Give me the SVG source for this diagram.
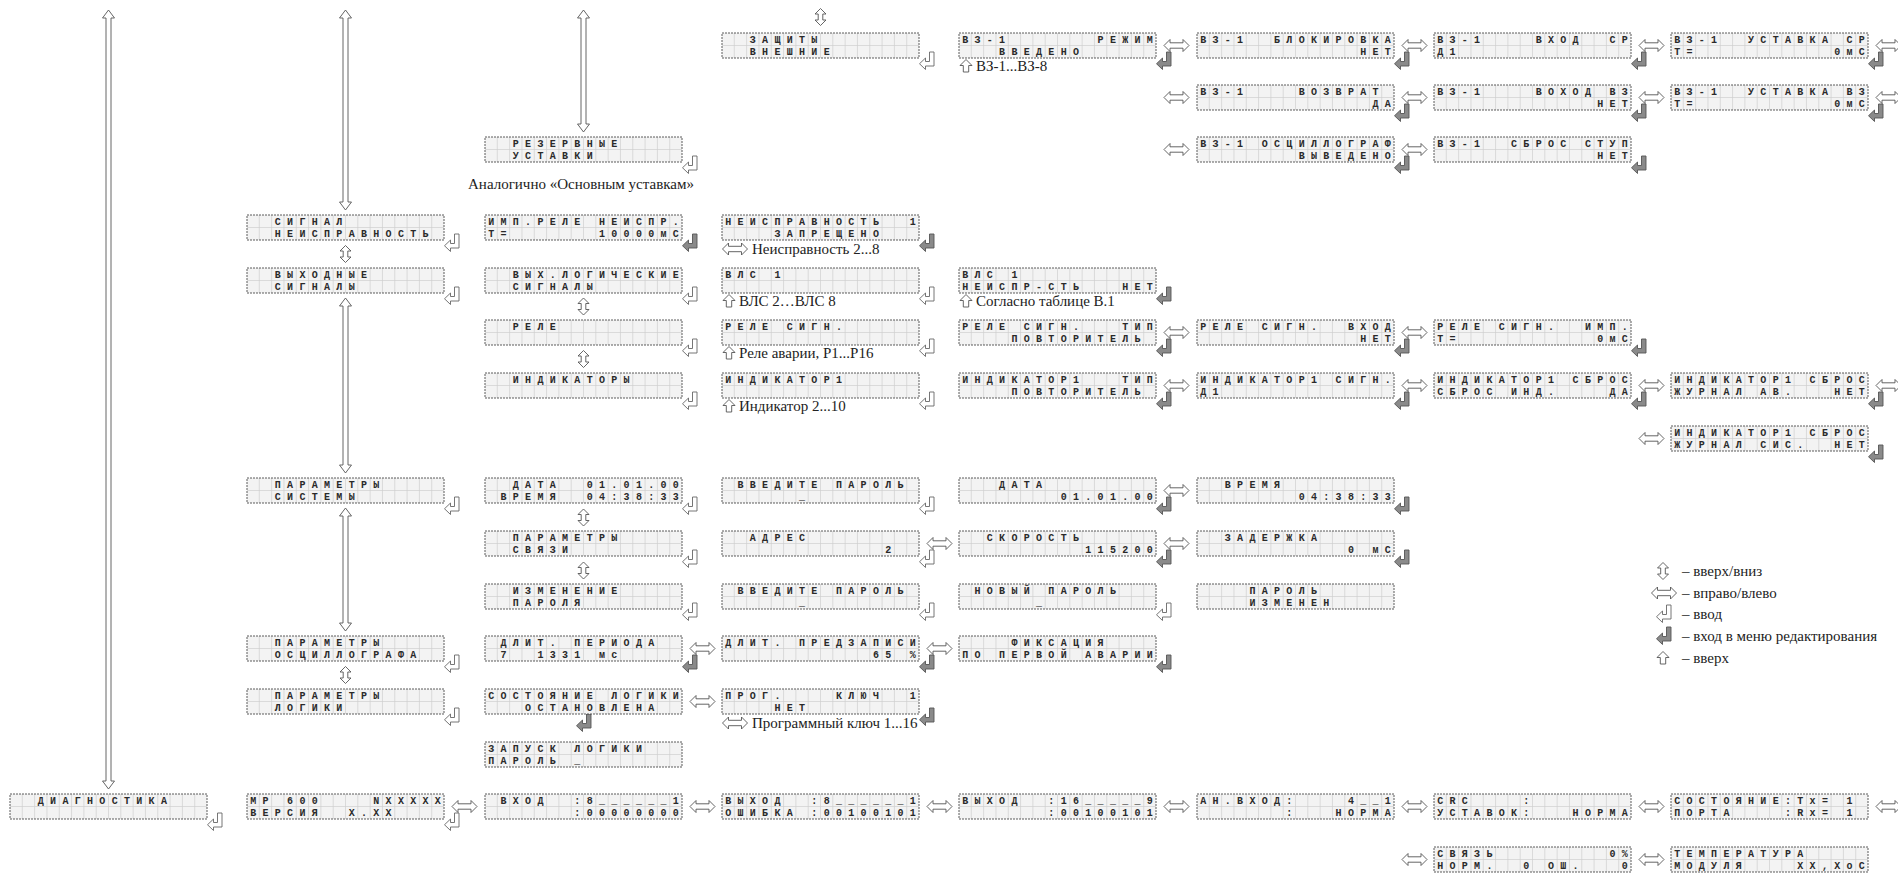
<svg xmlns="http://www.w3.org/2000/svg" width="1898" height="875" viewBox="0 0 1898 875">
<style>
.t{font-family:"Liberation Mono","DejaVu Sans Mono",monospace;font-size:10px;font-weight:bold;letter-spacing:6.31px;white-space:pre;fill:#2a2a2a}
.lb{font-family:"Liberation Serif","DejaVu Serif",serif;font-size:15px;fill:#222}
.ar{fill:#fff;stroke:#555;stroke-width:0.9}
.eL{fill:#fff;stroke:#666;stroke-width:0.9}
.eD{fill:#8a8a8a;stroke:#555;stroke-width:0.9}
</style>
<defs>
<g id="lcd">
<rect width="197" height="25" fill="#f3f3f3"/>
<path d="M12.31 0V25M24.63 0V25M36.94 0V25M49.25 0V25M61.56 0V25M73.88 0V25M86.19 0V25M98.5 0V25M110.81 0V25M123.13 0V25M135.44 0V25M147.75 0V25M160.06 0V25M172.38 0V25M184.69 0V25M0 12.5H197" stroke="#cfcfcf" stroke-width="0.7" fill="none"/>
<rect width="197" height="25" fill="none" stroke="#4a4a4a" stroke-width="0.9" stroke-dasharray="2 1"/>
</g>
<polygon id="ent" points="10.5,0 15,0 15,14 6.5,14 6.5,17.5 0.5,11.75 6.5,6 6.5,9.5 10.5,9.5"/>
<polygon id="hx" points="-12.5,0 -6.5,-6 -6.5,-2.7 6.5,-2.7 6.5,-6 12.5,0 6.5,6 6.5,2.7 -6.5,2.7 -6.5,6"/>
<polygon id="vx" points="0,-8.5 5.5,-3 2.3,-3 2.3,3 5.5,3 0,8.5 -5.5,3 -2.3,3 -2.3,-3 -5.5,-3"/>
<polygon id="up" points="0,-6.5 6,-0.5 2.7,-0.5 2.7,6 -2.7,6 -2.7,-0.5 -6,-0.5"/>
</defs>
<rect width="1898" height="875" fill="#fff"/>

<g id="connectors">
<polygon class="ar" points="108.5,10 114.5,18 111,18 111,781 114.5,781 108.5,789 102.5,781 106,781 106,18 102.5,18"/>
<polygon class="ar" points="345.5,10 351.5,18 348,18 348,202 351.5,202 345.5,210 339.5,202 343,202 343,18 339.5,18"/>
<polygon class="ar" points="345.5,298 351.5,306 348,306 348,465 351.5,465 345.5,473 339.5,465 343,465 343,306 339.5,306"/>
<polygon class="ar" points="345.5,508 351.5,516 348,516 348,623 351.5,623 345.5,631 339.5,623 343,623 343,516 339.5,516"/>
<polygon class="ar" points="583.5,10 589.5,18 586,18 586,124 589.5,124 583.5,132 577.5,124 581,124 581,18 577.5,18"/>
<use href="#vx" class="ar" x="820.5" y="17"/>
<use href="#vx" class="ar" x="345.5" y="254"/>
<use href="#vx" class="ar" x="345.5" y="675"/>
<use href="#vx" class="ar" x="583.5" y="306.5"/>
<use href="#vx" class="ar" x="583.5" y="359"/>
<use href="#vx" class="ar" x="583.5" y="517.5"/>
<use href="#vx" class="ar" x="583.5" y="570.5"/>
<use href="#ent" class="eD" x="576" y="714"/>
<use href="#hx" class="ar" x="1176.5" y="45.5"/>
<use href="#hx" class="ar" x="1414.5" y="45.5"/>
<use href="#hx" class="ar" x="1651.5" y="45.5"/>
<use href="#hx" class="ar" x="1888.5" y="45.5"/>
<use href="#hx" class="ar" x="1176.5" y="97.5"/>
<use href="#hx" class="ar" x="1414.5" y="97.5"/>
<use href="#hx" class="ar" x="1651.5" y="97.5"/>
<use href="#hx" class="ar" x="1888.5" y="97.5"/>
<use href="#hx" class="ar" x="1176.5" y="149.5"/>
<use href="#hx" class="ar" x="1414.5" y="149.5"/>
<use href="#hx" class="ar" x="1176.5" y="332.5"/>
<use href="#hx" class="ar" x="1414.5" y="332.5"/>
<use href="#hx" class="ar" x="1176.5" y="385.5"/>
<use href="#hx" class="ar" x="1414.5" y="385.5"/>
<use href="#hx" class="ar" x="1651.5" y="385.5"/>
<use href="#hx" class="ar" x="1888.5" y="385.5"/>
<use href="#hx" class="ar" x="1651.5" y="438.5"/>
<use href="#hx" class="ar" x="1176.5" y="490.5"/>
<use href="#hx" class="ar" x="939.5" y="543.5"/>
<use href="#hx" class="ar" x="1176.5" y="543.5"/>
<use href="#hx" class="ar" x="702.5" y="648.5"/>
<use href="#hx" class="ar" x="939.5" y="648.5"/>
<use href="#hx" class="ar" x="702.5" y="701.5"/>
<use href="#hx" class="ar" x="464.5" y="806.5"/>
<use href="#hx" class="ar" x="702.5" y="806.5"/>
<use href="#hx" class="ar" x="939.5" y="806.5"/>
<use href="#hx" class="ar" x="1176.5" y="806.5"/>
<use href="#hx" class="ar" x="1414.5" y="806.5"/>
<use href="#hx" class="ar" x="1651.5" y="806.5"/>
<use href="#hx" class="ar" x="1888.5" y="806.5"/>
<use href="#hx" class="ar" x="1414.5" y="859.5"/>
<use href="#hx" class="ar" x="1651.5" y="859.5"/>
</g>

<g id="n-zashity" transform="translate(722,33)"><use href="#lcd"/><text class="t" x="3.2" y="9.8">  ЗАЩИТЫ</text><text class="t" x="3.2" y="22.3">  ВНЕШНИЕ</text><use href="#ent" class="eL" x="197" y="19"/></g>
<g id="n-vz-rezhim" transform="translate(959,33)"><use href="#lcd"/><text class="t" x="3.2" y="9.8">ВЗ-1       РЕЖИМ</text><text class="t" x="3.2" y="22.3">   ВВЕДЕНО</text><use href="#ent" class="eD" x="197" y="19"/><use href="#up" class="ar" x="7" y="33"/><text class="lb" x="17" y="38">ВЗ-1...ВЗ-8</text></g>
<g id="n-vz-blok" transform="translate(1197,33)"><use href="#lcd"/><text class="t" x="3.2" y="9.8">ВЗ-1  БЛОКИРОВКА</text><text class="t" x="3.2" y="22.3">             НЕТ</text><use href="#ent" class="eD" x="197" y="19"/></g>
<g id="n-vz-vhod-sr" transform="translate(1434,33)"><use href="#lcd"/><text class="t" x="3.2" y="9.8">ВЗ-1    ВХОД  СР</text><text class="t" x="3.2" y="22.3">Д1</text><use href="#ent" class="eD" x="197" y="19"/></g>
<g id="n-vz-ust-sr" transform="translate(1671,33)"><use href="#lcd"/><text class="t" x="3.2" y="9.8">ВЗ-1  УСТАВКА СР</text><text class="t" x="3.2" y="22.3">Т=           0мС</text><use href="#ent" class="eD" x="197" y="19"/></g>

<g id="n-vz-vozvrat" transform="translate(1197,85)"><use href="#lcd"/><text class="t" x="3.2" y="9.8">ВЗ-1    ВОЗВРАТ</text><text class="t" x="3.2" y="22.3">              ДА</text><use href="#ent" class="eD" x="197" y="19"/></g>
<g id="n-vz-vhod-vz" transform="translate(1434,85)"><use href="#lcd"/><text class="t" x="3.2" y="9.8">ВЗ-1    ВОХОД ВЗ</text><text class="t" x="3.2" y="22.3">             НЕТ</text><use href="#ent" class="eD" x="197" y="19"/></g>
<g id="n-vz-ust-vz" transform="translate(1671,85)"><use href="#lcd"/><text class="t" x="3.2" y="9.8">ВЗ-1  УСТАВКА ВЗ</text><text class="t" x="3.2" y="22.3">Т=           0мС</text><use href="#ent" class="eD" x="197" y="19"/></g>

<g id="n-rezerv" transform="translate(485,137)"><use href="#lcd"/><text class="t" x="3.2" y="9.8">  РЕЗЕРВНЫЕ</text><text class="t" x="3.2" y="22.3">  УСТАВКИ</text><use href="#ent" class="eL" x="197" y="19"/><text class="lb" x="96" y="52" text-anchor="middle">Аналогично «Основным уставкам»</text></g>
<g id="n-vz-osc" transform="translate(1197,137)"><use href="#lcd"/><text class="t" x="3.2" y="9.8">ВЗ-1 ОСЦИЛЛОГРАФ</text><text class="t" x="3.2" y="22.3">        ВЫВЕДЕНО</text><use href="#ent" class="eD" x="197" y="19"/></g>
<g id="n-vz-sbros" transform="translate(1434,137)"><use href="#lcd"/><text class="t" x="3.2" y="9.8">ВЗ-1  СБРОС СТУП</text><text class="t" x="3.2" y="22.3">             НЕТ</text><use href="#ent" class="eD" x="197" y="19"/></g>

<g id="n-signal" transform="translate(247,215)"><use href="#lcd"/><text class="t" x="3.2" y="9.8">  СИГНАЛ</text><text class="t" x="3.2" y="22.3">  НЕИСПРАВНОСТЬ</text><use href="#ent" class="eL" x="197" y="19"/></g>
<g id="n-imp-rele" transform="translate(485,215)"><use href="#lcd"/><text class="t" x="3.2" y="9.8">ИМП.РЕЛЕ НЕИСПР.</text><text class="t" x="3.2" y="22.3">Т=       10000мС</text><use href="#ent" class="eD" x="197" y="19"/></g>
<g id="n-neispr1" transform="translate(722,215)"><use href="#lcd"/><text class="t" x="3.2" y="9.8">НЕИСПРАВНОСТЬ  1</text><text class="t" x="3.2" y="22.3">    ЗАПРЕЩЕНО</text><use href="#ent" class="eD" x="197" y="19"/><use href="#hx" class="ar" x="13" y="34"/><text class="lb" x="30" y="39">Неисправность 2...8</text></g>

<g id="n-vyhodnye" transform="translate(247,268)"><use href="#lcd"/><text class="t" x="3.2" y="9.8">  ВЫХОДНЫЕ</text><text class="t" x="3.2" y="22.3">  СИГНАЛЫ</text><use href="#ent" class="eL" x="197" y="19"/></g>
<g id="n-vyh-log" transform="translate(485,268)"><use href="#lcd"/><text class="t" x="3.2" y="9.8">  ВЫХ.ЛОГИЧЕСКИЕ</text><text class="t" x="3.2" y="22.3">  СИГНАЛЫ</text><use href="#ent" class="eL" x="197" y="19"/></g>
<g id="n-vls1" transform="translate(722,268)"><use href="#lcd"/><text class="t" x="3.2" y="9.8">ВЛС 1</text><use href="#ent" class="eL" x="197" y="19"/><use href="#up" class="ar" x="7" y="33"/><text class="lb" x="17" y="38">ВЛС 2…ВЛС 8</text></g>
<g id="n-vls1-neispr" transform="translate(959,268)"><use href="#lcd"/><text class="t" x="3.2" y="9.8">ВЛС 1</text><text class="t" x="3.2" y="22.3">НЕИСПР-СТЬ   НЕТ</text><use href="#ent" class="eD" x="197" y="19"/><use href="#up" class="ar" x="7" y="33"/><text class="lb" x="17" y="38">Согласно таблице В.1</text></g>

<g id="n-rele" transform="translate(485,320)"><use href="#lcd"/><text class="t" x="3.2" y="9.8">  РЕЛЕ</text><use href="#ent" class="eL" x="197" y="19"/></g>
<g id="n-rele-sign" transform="translate(722,320)"><use href="#lcd"/><text class="t" x="3.2" y="9.8">РЕЛЕ СИГН.</text><use href="#ent" class="eL" x="197" y="19"/><use href="#up" class="ar" x="7" y="33"/><text class="lb" x="17" y="38">Реле аварии, Р1...Р16</text></g>
<g id="n-rele-tip" transform="translate(959,320)"><use href="#lcd"/><text class="t" x="3.2" y="9.8">РЕЛЕ СИГН.   ТИП</text><text class="t" x="3.2" y="22.3">    ПОВТОРИТЕЛЬ</text><use href="#ent" class="eD" x="197" y="19"/></g>
<g id="n-rele-vhod" transform="translate(1197,320)"><use href="#lcd"/><text class="t" x="3.2" y="9.8">РЕЛЕ СИГН.  ВХОД</text><text class="t" x="3.2" y="22.3">             НЕТ</text><use href="#ent" class="eD" x="197" y="19"/></g>
<g id="n-rele-imp" transform="translate(1434,320)"><use href="#lcd"/><text class="t" x="3.2" y="9.8">РЕЛЕ СИГН.  ИМП.</text><text class="t" x="3.2" y="22.3">Т=           0мС</text><use href="#ent" class="eD" x="197" y="19"/></g>

<g id="n-indikatory" transform="translate(485,373)"><use href="#lcd"/><text class="t" x="3.2" y="9.8">  ИНДИКАТОРЫ</text><use href="#ent" class="eL" x="197" y="19"/></g>
<g id="n-ind1" transform="translate(722,373)"><use href="#lcd"/><text class="t" x="3.2" y="9.8">ИНДИКАТОР1</text><use href="#ent" class="eL" x="197" y="19"/><use href="#up" class="ar" x="7" y="33"/><text class="lb" x="17" y="38">Индикатор 2...10</text></g>
<g id="n-ind1-tip" transform="translate(959,373)"><use href="#lcd"/><text class="t" x="3.2" y="9.8">ИНДИКАТОР1   ТИП</text><text class="t" x="3.2" y="22.3">    ПОВТОРИТЕЛЬ</text><use href="#ent" class="eD" x="197" y="19"/></g>
<g id="n-ind1-sign" transform="translate(1197,373)"><use href="#lcd"/><text class="t" x="3.2" y="9.8">ИНДИКАТОР1 СИГН.</text><text class="t" x="3.2" y="22.3">Д1</text><use href="#ent" class="eD" x="197" y="19"/></g>
<g id="n-ind1-sbros-ind" transform="translate(1434,373)"><use href="#lcd"/><text class="t" x="3.2" y="9.8">ИНДИКАТОР1 СБРОС</text><text class="t" x="3.2" y="22.3">СБРОС ИНД.    ДА</text><use href="#ent" class="eD" x="197" y="19"/></g>
<g id="n-ind1-sbros-av" transform="translate(1671,373)"><use href="#lcd"/><text class="t" x="3.2" y="9.8">ИНДИКАТОР1 СБРОС</text><text class="t" x="3.2" y="22.3">ЖУРНАЛ АВ.   НЕТ</text><use href="#ent" class="eD" x="197" y="19"/></g>
<g id="n-ind1-sbros-sis" transform="translate(1671,426)"><use href="#lcd"/><text class="t" x="3.2" y="9.8">ИНДИКАТОР1 СБРОС</text><text class="t" x="3.2" y="22.3">ЖУРНАЛ СИС.  НЕТ</text><use href="#ent" class="eD" x="197" y="19"/></g>

<g id="n-param-sis" transform="translate(247,478)"><use href="#lcd"/><text class="t" x="3.2" y="9.8">  ПАРАМЕТРЫ</text><text class="t" x="3.2" y="22.3">  СИСТЕМЫ</text><use href="#ent" class="eL" x="197" y="19"/></g>
<g id="n-data-vremya" transform="translate(485,478)"><use href="#lcd"/><text class="t" x="3.2" y="9.8">  ДАТА  01.01.00</text><text class="t" x="3.2" y="22.3"> ВРЕМЯ  04:38:33</text><use href="#ent" class="eL" x="197" y="19"/></g>
<g id="n-parol1" transform="translate(722,478)"><use href="#lcd"/><text class="t" x="3.2" y="9.8"> ВВЕДИТЕ ПАРОЛЬ</text><text class="t" x="3.2" y="22.3">      _</text><use href="#ent" class="eL" x="197" y="19"/></g>
<g id="n-data" transform="translate(959,478)"><use href="#lcd"/><text class="t" x="3.2" y="9.8">   ДАТА</text><text class="t" x="3.2" y="22.3">        01.01.00</text><use href="#ent" class="eD" x="197" y="19"/></g>
<g id="n-vremya" transform="translate(1197,478)"><use href="#lcd"/><text class="t" x="3.2" y="9.8">  ВРЕМЯ</text><text class="t" x="3.2" y="22.3">        04:38:33</text><use href="#ent" class="eD" x="197" y="19"/></g>

<g id="n-param-svyazi" transform="translate(485,531)"><use href="#lcd"/><text class="t" x="3.2" y="9.8">  ПАРАМЕТРЫ</text><text class="t" x="3.2" y="22.3">  СВЯЗИ</text><use href="#ent" class="eL" x="197" y="19"/></g>
<g id="n-adres" transform="translate(722,531)"><use href="#lcd"/><text class="t" x="3.2" y="9.8">  АДРЕС</text><text class="t" x="3.2" y="22.3">             2</text><use href="#ent" class="eL" x="197" y="19"/></g>
<g id="n-skorost" transform="translate(959,531)"><use href="#lcd"/><text class="t" x="3.2" y="9.8">  СКОРОСТЬ</text><text class="t" x="3.2" y="22.3">          115200</text><use href="#ent" class="eD" x="197" y="19"/></g>
<g id="n-zaderzhka" transform="translate(1197,531)"><use href="#lcd"/><text class="t" x="3.2" y="9.8">  ЗАДЕРЖКА</text><text class="t" x="3.2" y="22.3">            0 мС</text><use href="#ent" class="eD" x="197" y="19"/></g>

<g id="n-izm-parolya" transform="translate(485,584)"><use href="#lcd"/><text class="t" x="3.2" y="9.8">  ИЗМЕНЕНИЕ</text><text class="t" x="3.2" y="22.3">  ПАРОЛЯ</text><use href="#ent" class="eL" x="197" y="19"/></g>
<g id="n-parol2" transform="translate(722,584)"><use href="#lcd"/><text class="t" x="3.2" y="9.8"> ВВЕДИТЕ ПАРОЛЬ</text><text class="t" x="3.2" y="22.3">      _</text><use href="#ent" class="eL" x="197" y="19"/></g>
<g id="n-novyi-parol" transform="translate(959,584)"><use href="#lcd"/><text class="t" x="3.2" y="9.8"> НОВЫЙ ПАРОЛЬ</text><text class="t" x="3.2" y="22.3">      _</text><use href="#ent" class="eL" x="197" y="19"/></g>
<g id="n-parol-izmenen" transform="translate(1197,584)"><use href="#lcd"/><text class="t" x="3.2" y="9.8">    ПАРОЛЬ</text><text class="t" x="3.2" y="22.3">    ИЗМЕНЕН</text></g>

<g id="n-param-osc" transform="translate(247,636)"><use href="#lcd"/><text class="t" x="3.2" y="9.8">  ПАРАМЕТРЫ</text><text class="t" x="3.2" y="22.3">  ОСЦИЛЛОГРАФА</text><use href="#ent" class="eL" x="197" y="19"/></g>
<g id="n-dlit-per" transform="translate(485,636)"><use href="#lcd"/><text class="t" x="3.2" y="9.8"> ДЛИТ. ПЕРИОДА</text><text class="t" x="3.2" y="22.3"> 7  1331 мс</text><use href="#ent" class="eD" x="197" y="19"/></g>
<g id="n-dlit-pred" transform="translate(722,636)"><use href="#lcd"/><text class="t" x="3.2" y="9.8">ДЛИТ. ПРЕДЗАПИСИ</text><text class="t" x="3.2" y="22.3">            65 %</text><use href="#ent" class="eD" x="197" y="19"/></g>
<g id="n-fiksaciya" transform="translate(959,636)"><use href="#lcd"/><text class="t" x="3.2" y="9.8">    ФИКСАЦИЯ</text><text class="t" x="3.2" y="22.3">ПО ПЕРВОЙ АВАРИИ</text><use href="#ent" class="eD" x="197" y="19"/></g>

<g id="n-param-log" transform="translate(247,689)"><use href="#lcd"/><text class="t" x="3.2" y="9.8">  ПАРАМЕТРЫ</text><text class="t" x="3.2" y="22.3">  ЛОГИКИ</text><use href="#ent" class="eL" x="197" y="19"/></g>
<g id="n-sost-log" transform="translate(485,689)"><use href="#lcd"/><text class="t" x="3.2" y="9.8">СОСТОЯНИЕ ЛОГИКИ</text><text class="t" x="3.2" y="22.3">   ОСТАНОВЛЕНА</text></g>
<g id="n-prog-kluch" transform="translate(722,689)"><use href="#lcd"/><text class="t" x="3.2" y="9.8">ПРОГ.    КЛЮЧ  1</text><text class="t" x="3.2" y="22.3">    НЕТ</text><use href="#ent" class="eD" x="197" y="19"/><use href="#hx" class="ar" x="13" y="34"/><text class="lb" x="30" y="39">Программный ключ 1...16</text></g>

<g id="n-zapusk" transform="translate(485,742)"><use href="#lcd"/><text class="t" x="3.2" y="9.8">ЗАПУСК ЛОГИКИ</text><text class="t" x="3.2" y="22.3">ПАРОЛЬ _</text></g>

<g id="n-diagn" transform="translate(10,794)"><use href="#lcd"/><text class="t" x="3.2" y="9.8">  ДИАГНОСТИКА</text><use href="#ent" class="eL" x="197" y="19"/></g>
<g id="n-mr600" transform="translate(247,794)"><use href="#lcd"/><text class="t" x="3.2" y="9.8">МР 600    NXXXXX</text><text class="t" x="3.2" y="22.3">ВЕРСИЯ  X.XX</text><use href="#ent" class="eL" x="197" y="19"/></g>
<g id="n-vhod" transform="translate(485,794)"><use href="#lcd"/><text class="t" x="3.2" y="9.8"> ВХОД  :8______1</text><text class="t" x="3.2" y="22.3">       :00000000</text></g>
<g id="n-vyhod8" transform="translate(722,794)"><use href="#lcd"/><text class="t" x="3.2" y="9.8">ВЫХОД  :8______1</text><text class="t" x="3.2" y="22.3">ОШИБКА :00100101</text></g>
<g id="n-vyhod16" transform="translate(959,794)"><use href="#lcd"/><text class="t" x="3.2" y="9.8">ВЫХОД  :16_____9</text><text class="t" x="3.2" y="22.3">       :00100101</text></g>
<g id="n-an-vhod" transform="translate(1197,794)"><use href="#lcd"/><text class="t" x="3.2" y="9.8">АН.ВХОД:    4__1</text><text class="t" x="3.2" y="22.3">       :   НОРМА</text></g>
<g id="n-crc" transform="translate(1434,794)"><use href="#lcd"/><text class="t" x="3.2" y="9.8">CRC    :</text><text class="t" x="3.2" y="22.3">УСТАВОК:   НОРМА</text></g>
<g id="n-sost-port" transform="translate(1671,794)"><use href="#lcd"/><text class="t" x="3.2" y="9.8">СОСТОЯНИЕ:Tx= 1</text><text class="t" x="3.2" y="22.3">ПОРТА    :Rx= 1</text></g>

<g id="n-svyaz" transform="translate(1434,847)"><use href="#lcd"/><text class="t" x="3.2" y="9.8">СВЯЗЬ         0%</text><text class="t" x="3.2" y="22.3">НОРМ.  0 ОШ.   0</text></g>
<g id="n-temp" transform="translate(1671,847)"><use href="#lcd"/><text class="t" x="3.2" y="9.8">ТЕМПЕРАТУРА</text><text class="t" x="3.2" y="22.3">МОДУЛЯ    XX,XoC</text></g>

<g id="legend">
<use href="#vx" class="ar" x="1663" y="571"/><text class="lb" x="1682" y="576">– вверх/вниз</text>
<use href="#hx" class="ar" x="1664" y="593"/><text class="lb" x="1682" y="598">– вправо/влево</text>
<use href="#ent" class="eL" x="1656" y="605"/><text class="lb" x="1682" y="619">– ввод</text>
<use href="#ent" class="eD" x="1656" y="627"/><text class="lb" x="1682" y="641">– вход в меню редактирования</text>
<use href="#up" class="ar" x="1663" y="658"/><text class="lb" x="1682" y="663">– вверх</text>
</g>
</svg>
